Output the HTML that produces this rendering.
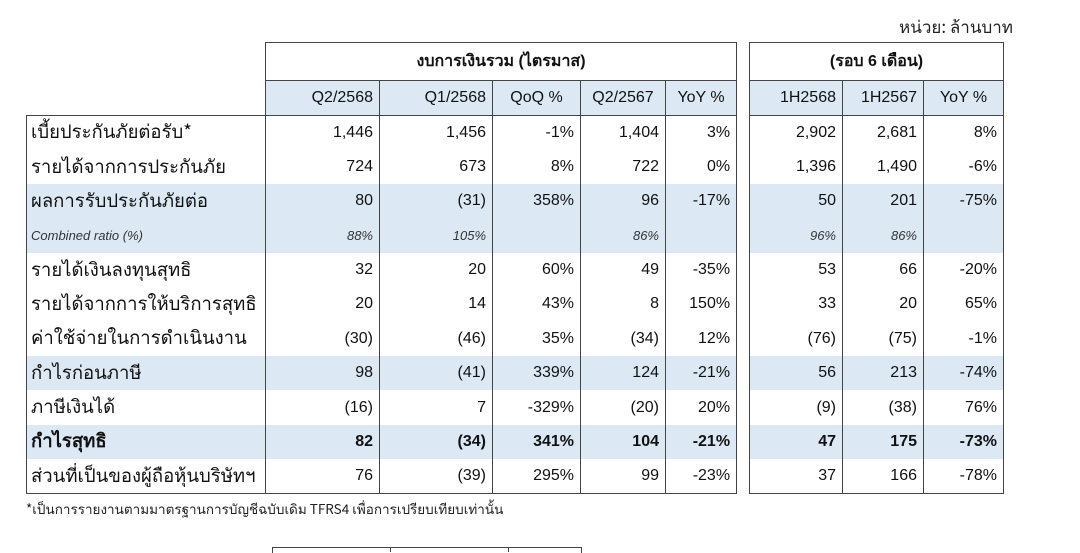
<!DOCTYPE html>
<html><head><meta charset="utf-8"><style>
body{margin:0;width:1080px;height:550px;background:#fff;overflow:hidden;position:relative;font-family:"Liberation Sans","Noto Sans CJK SC",sans-serif;color:#111}
table{border-collapse:collapse;position:absolute;table-layout:fixed}
td{padding:0 6px;font-size:16px;text-align:right;white-space:nowrap;border-left:1.5px solid #444;border-right:1.5px solid #444;height:34.36px;box-sizing:border-box;overflow:hidden}
td.l{text-align:left;padding-left:4px;font-size:18.5px;font-family:"Noto Sans CJK SC","Liberation Sans",sans-serif}
tr.s td{background:#dce9f5}
tr.h td{height:38px;font-size:16px;text-align:center;font-weight:bold;border-top:1.5px solid #444;border-bottom:1.5px solid #444}
tr.c td{height:35px;background:#dce9f5;text-align:center;border-bottom:1.5px solid #444}
tr.c td.r{text-align:right}
tr.i td{font-style:italic;font-size:13px;color:#333}
tr.b td{font-weight:bold}
tr.last td{border-bottom:1.5px solid #444}
td.n{border:none!important;background:none!important}
tr.first td{border-top:1.5px solid #444}
</style></head><body>
<div style="position:absolute;right:67px;top:13px;font-size:17px;font-family:'Noto Sans CJK SC',sans-serif;color:#222">หน่วย: ล้านบาท</div>
<table style="left:26px;top:42px;width:710px">
<colgroup><col style="width:239px"><col style="width:114px"><col style="width:113px"><col style="width:88px"><col style="width:85px"><col style="width:71px"></colgroup>
<tr class="h"><td class="n"></td><td colspan="5">งบการเงินรวม (ไตรมาส)</td></tr>
<tr class="c"><td class="n"></td><td class="r">Q2/2568</td><td class="r">Q1/2568</td><td>QoQ %</td><td>Q2/2567</td><td>YoY %</td></tr>
<tr class="first"><td class="l">เบี้ยประกันภัยต่อรับ*</td><td>1,446</td><td>1,456</td><td>-1%</td><td>1,404</td><td>3%</td></tr>
<tr><td class="l">รายได้จากการประกันภัย</td><td>724</td><td>673</td><td>8%</td><td>722</td><td>0%</td></tr>
<tr class="s"><td class="l">ผลการรับประกันภัยต่อ</td><td>80</td><td>(31)</td><td>358%</td><td>96</td><td>-17%</td></tr>
<tr class="s i"><td class="l" style="font-size:13px;font-family:'Liberation Sans',sans-serif">Combined ratio (%)</td><td>88%</td><td>105%</td><td></td><td>86%</td><td></td></tr>
<tr><td class="l">รายได้เงินลงทุนสุทธิ</td><td>32</td><td>20</td><td>60%</td><td>49</td><td>-35%</td></tr>
<tr><td class="l">รายได้จากการให้บริการสุทธิ</td><td>20</td><td>14</td><td>43%</td><td>8</td><td>150%</td></tr>
<tr><td class="l">ค่าใช้จ่ายในการดำเนินงาน</td><td>(30)</td><td>(46)</td><td>35%</td><td>(34)</td><td>12%</td></tr>
<tr class="s"><td class="l">กำไรก่อนภาษี</td><td>98</td><td>(41)</td><td>339%</td><td>124</td><td>-21%</td></tr>
<tr><td class="l">ภาษีเงินได้</td><td>(16)</td><td>7</td><td>-329%</td><td>(20)</td><td>20%</td></tr>
<tr class="s b"><td class="l">กำไรสุทธิ</td><td>82</td><td>(34)</td><td>341%</td><td>104</td><td>-21%</td></tr>
<tr class="last"><td class="l">ส่วนที่เป็นของผู้ถือหุ้นบริษัทฯ</td><td>76</td><td>(39)</td><td>295%</td><td>99</td><td>-23%</td></tr>
</table>
<table style="left:749px;top:42px;width:254px">
<colgroup><col style="width:93px"><col style="width:81px"><col style="width:80px"></colgroup>
<tr class="h"><td colspan="3">(รอบ 6 เดือน)</td></tr>
<tr class="c"><td class="r">1H2568</td><td class="r">1H2567</td><td>YoY %</td></tr>
<tr class="first"><td>2,902</td><td>2,681</td><td>8%</td></tr>
<tr><td>1,396</td><td>1,490</td><td>-6%</td></tr>
<tr class="s"><td>50</td><td>201</td><td>-75%</td></tr>
<tr class="s i"><td>96%</td><td>86%</td><td></td></tr>
<tr><td>53</td><td>66</td><td>-20%</td></tr>
<tr><td>33</td><td>20</td><td>65%</td></tr>
<tr><td>(76)</td><td>(75)</td><td>-1%</td></tr>
<tr class="s"><td>56</td><td>213</td><td>-74%</td></tr>
<tr><td>(9)</td><td>(38)</td><td>76%</td></tr>
<tr class="s b"><td>47</td><td>175</td><td>-73%</td></tr>
<tr class="last"><td>37</td><td>166</td><td>-78%</td></tr>
</table>
<div style="position:absolute;left:26px;top:498px;font-size:13.5px;font-family:'Noto Sans CJK SC',sans-serif;color:#222">*เป็นการรายงานตามมาตรฐานการบัญชีฉบับเดิม TFRS4 เพื่อการเปรียบเทียบเท่านั้น</div>
<div style="position:absolute;left:272px;top:547px;width:308px;height:5px;border-top:1.5px solid #444;border-left:1.5px solid #444;border-right:1.5px solid #444"></div>
<div style="position:absolute;left:390px;top:547px;width:0;height:5px;border-left:1.5px solid #444"></div>
<div style="position:absolute;left:508px;top:547px;width:0;height:5px;border-left:1.5px solid #444"></div>
</body></html>
